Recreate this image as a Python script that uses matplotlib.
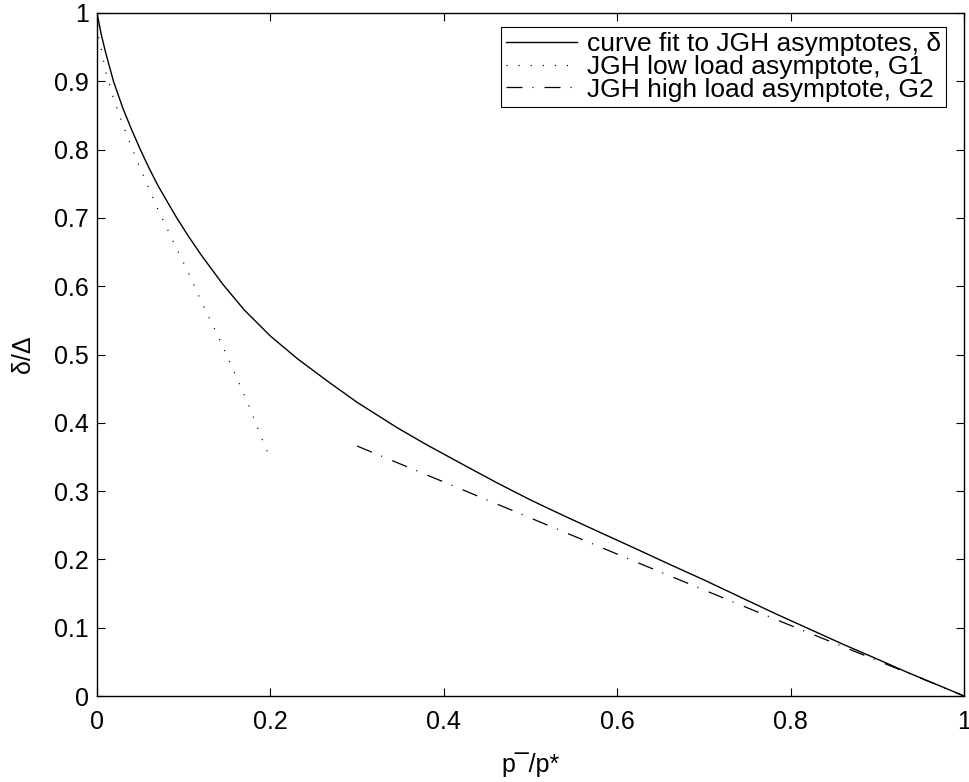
import matplotlib
matplotlib.use("Agg")
import matplotlib.pyplot as plt

plt.rcParams["font.family"] = ["Liberation Sans", "DejaVu Sans"]
plt.rcParams["lines.scale_dashes"] = False

# curve fit to JGH asymptotes (delta / Delta against p/p*)
fit_x = [0, 0.005, 0.010, 0.019, 0.03, 0.04, 0.05, 0.06, 0.07, 0.08, 0.092,
         0.105, 0.12, 0.145, 0.17, 0.2, 0.232, 0.268, 0.30, 0.346, 0.38,
         0.422, 0.46, 0.5, 0.54, 0.576, 0.626, 0.66, 0.70, 0.74, 0.78,
         0.82, 0.86, 0.90, 0.934, 0.97, 1.0]
fit_y = [1, 0.968, 0.942, 0.900, 0.860, 0.829, 0.800, 0.773, 0.748, 0.726, 0.700,
         0.674, 0.646, 0.603, 0.565, 0.527, 0.493, 0.459, 0.430, 0.393, 0.368,
         0.339, 0.313, 0.287, 0.263, 0.242, 0.213, 0.193, 0.170, 0.146, 0.122,
         0.099, 0.076, 0.054, 0.035, 0.016, 0]

# low load asymptote G1
g1_x = [0, 0.002, 0.005, 0.010, 0.018, 0.027, 0.037, 0.047, 0.058, 0.069, 0.081,
        0.093, 0.105, 0.122, 0.140, 0.157, 0.174, 0.189, 0.2]
g1_y = [1, 0.964, 0.947, 0.914, 0.879, 0.846, 0.813, 0.781, 0.749, 0.716, 0.684,
        0.652, 0.621, 0.573, 0.526, 0.478, 0.429, 0.380, 0.347]

# high load asymptote G2
g2_x = [0.300, 0.469, 0.626, 0.783, 0.824, 0.960, 1.0]
g2_y = [0.366, 0.277, 0.194, 0.112, 0.091, 0.021, 0]

labels = ["curve fit to JGH asymptotes, \u03b4",
          "JGH low load asymptote, G1",
          "JGH high load asymptote, G2"]
xticks = [0, 0.2, 0.4, 0.6, 0.8, 1]
xtick_labels = ["0", "0.2", "0.4", "0.6", "0.8", "1"]
yticks = [0, 0.1, 0.2, 0.3, 0.4, 0.5, 0.6, 0.7, 0.8, 0.9, 1]
ytick_labels = ["0", "0.1", "0.2", "0.3", "0.4", "0.5", "0.6", "0.7", "0.8", "0.9", "1"]

fig = plt.figure(figsize=(9.69, 7.82), dpi=100)
ax = fig.add_axes([97 / 969, 1 - 696 / 782, 867 / 969, 683 / 782])

ax.plot(fit_x, fit_y, color="black", lw=1.0, label=labels[0])
ax.plot(g1_x, g1_y, color="black", lw=0.9, linestyle=(0, (0.8, 7.9)), label=labels[1])
ax.plot(g2_x, g2_y, color="black", lw=0.9, linestyle=(0, (11.5, 7.2, 0.8, 7.9)),
        label=labels[2])

ax.set_xlim(0, 1)
ax.set_ylim(0, 1)
ax.set_xticks(xticks)
ax.set_xticklabels(xtick_labels)
ax.set_yticks(yticks)
ax.set_yticklabels(ytick_labels)
ax.tick_params(direction="in", length=6, width=0.8, top=True, right=True,
               labelsize=18, color="black")
ax.tick_params(axis="x", pad=10)
ax.tick_params(axis="y", pad=6)
for s in ax.spines.values():
    s.set_linewidth(1.0)

ax.set_xlabel("p\u00af/p*", fontsize=18, va="top")
ax.xaxis.set_label_coords(0.5, -0.082)
ax.set_ylabel("\u03b4/\u0394", fontsize=18)
ax.yaxis.set_label_coords(-0.072, 0.5)

leg = ax.legend(loc="upper right", bbox_to_anchor=(0.979, 0.9795), fontsize=19,
                fancybox=False, framealpha=1, edgecolor="black", borderaxespad=0,
                handlelength=2.7, handletextpad=0.35, borderpad=0.2,
                labelspacing=-0.05)
leg.get_frame().set_linewidth(0.8)

fig.savefig("out.png", dpi=100)
